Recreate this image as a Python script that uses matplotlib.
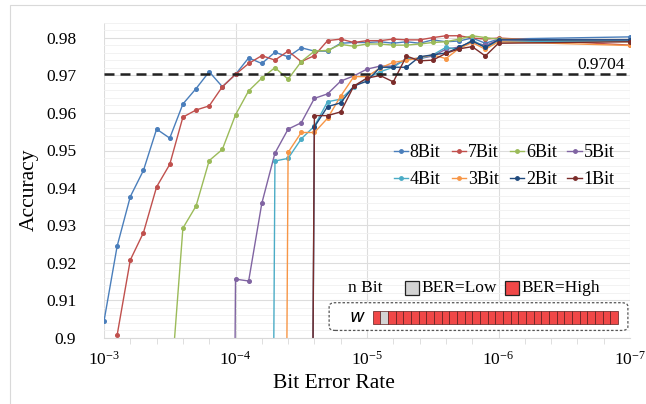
import numpy as np
import matplotlib
matplotlib.use('Agg')
import matplotlib.pyplot as plt
from matplotlib.patches import Rectangle, FancyBboxPatch
from matplotlib.ticker import FixedLocator, FuncFormatter, NullFormatter

plt.rcParams['font.family'] = ['Liberation Serif', 'DejaVu Serif']
plt.rcParams['mathtext.fontset'] = 'custom'
plt.rcParams['mathtext.rm'] = 'Liberation Serif'

# BER exponents (10^x): -3.0 ... -6.0 in 0.1 steps, then -7
ber_exp = [-3.0, -3.1, -3.2, -3.3, -3.4, -3.5, -3.6, -3.7, -3.8, -3.9,
           -4.0, -4.1, -4.2, -4.3, -4.4, -4.5, -4.6, -4.7, -4.8, -4.9,
           -5.0, -5.1, -5.2, -5.3, -5.4, -5.5, -5.6, -5.7, -5.8, -5.9,
           -6.0, -7.0]

N = None
acc_8bit = [0.9045, 0.9245, 0.9377, 0.9447, 0.9557, 0.9533, 0.9624, 0.9665, 0.9710, 0.9670,
            0.9703, 0.9747, 0.9732, 0.9762, 0.9750, 0.9774, 0.9765, 0.9765, 0.9786, 0.9788,
            0.9788, 0.9790, 0.9786, 0.9790, 0.9786, 0.9795, 0.9790, 0.9792, 0.9800, 0.9786,
            0.9797, 0.9803]
acc_7bit = [N, 0.9008, 0.9208, 0.9281, 0.9403, 0.9463, 0.9589, 0.9608, 0.9619, 0.9670,
            0.9703, 0.9732, 0.9753, 0.9741, 0.9765, 0.9737, 0.9753, 0.9793, 0.9797, 0.9788,
            0.9793, 0.9793, 0.9797, 0.9795, 0.9795, 0.9801, 0.9806, 0.9806, 0.9800, 0.9797,
            0.9800, 0.9781]
acc_6bit = [N, N, N, N, N, 0.8830, 0.9293, 0.9352, 0.9473, 0.9503,
            0.9595, 0.9659, 0.9693, 0.9721, 0.9690, 0.9737, 0.9765, 0.9767, 0.9783, 0.9778,
            0.9784, 0.9784, 0.9781, 0.9781, 0.9784, 0.9788, 0.9790, 0.9797, 0.9806, 0.9801,
            0.9797, 0.9790]
acc_5bit = [N, N, N, N, N, N, N, N, N, 0.4000,
            0.9157, 0.9152, 0.9359, 0.9493, 0.9557, 0.9574, 0.9639, 0.9651, 0.9685, 0.9699,
            0.9717, 0.9725, 0.9725, 0.9745, 0.9745, 0.9752, 0.9770, 0.9776, 0.9790, 0.9780,
            0.9795, 0.9795]
acc_4bit = [N, N, N, N, N, N, N, N, N, N,
            N, N, 0.4000, 0.9472, 0.9479, 0.9531, 0.9565, 0.9630, 0.9637, 0.9670,
            0.9693, 0.9710, 0.9722, 0.9745, 0.9745, 0.9755, 0.9775, 0.9770, 0.9795, 0.9775,
            0.9790, 0.9792]
acc_3bit = [N, N, N, N, N, N, N, N, N, N,
            N, N, N, 0.4000, 0.9495, 0.9548, 0.9548, 0.9586, 0.9645, 0.9697,
            0.9697, 0.9720, 0.9735, 0.9740, 0.9748, 0.9755, 0.9745, 0.9772, 0.9788, 0.9770,
            0.9790, 0.9780]
acc_2bit = [N, N, N, N, N, N, N, N, N, N,
            N, N, N, N, N, 0.4000, 0.9563, 0.9617, 0.9627, 0.9672,
            0.9685, 0.9722, 0.9722, 0.9722, 0.9750, 0.9755, 0.9760, 0.9775, 0.9792, 0.9775,
            0.9795, 0.9795]
acc_1bit = [N, N, N, N, N, N, N, N, N, N,
            N, N, N, N, N, 0.4000, 0.9593, 0.9593, 0.9603, 0.9672,
            0.9693, 0.9700, 0.9683, 0.9752, 0.9739, 0.9741, 0.9759, 0.9771, 0.9777, 0.9752,
            0.9786, 0.9790]

labels = ['8Bit', '7Bit', '6Bit', '5Bit', '4Bit', '3Bit', '2Bit', '1Bit']
series = [acc_8bit, acc_7bit, acc_6bit, acc_5bit, acc_4bit, acc_3bit, acc_2bit, acc_1bit]
colors = ['#4A7EBB', '#C0504D', '#9BBB59', '#8064A2', '#4BACC6', '#F79646', '#1F497D', '#7B2C2A']

threshold = 0.9704
y_ticks = [0.9, 0.91, 0.92, 0.93, 0.94, 0.95, 0.96, 0.97, 0.98]
x_ticks = [1e-3, 1e-4, 1e-5, 1e-6, 1e-7]
x_ticklabels = [r'$\mathregular{10^{-3}}$', r'$\mathregular{10^{-4}}$', r'$\mathregular{10^{-5}}$',
                r'$\mathregular{10^{-6}}$', r'$\mathregular{10^{-7}}$']
# weight bit states: L = low BER (grey), H = high BER (red)
w_bits = ['H', 'L'] + ['H'] * 30

ber = 10.0 ** np.array(ber_exp)

fig = plt.figure(figsize=(6.46, 4.04), dpi=100)
ax = fig.add_axes([104/646, 1 - 338/404, 526/646, 315/404])

for lab, acc, c in zip(labels, series, colors):
    ax.plot(ber, np.array(acc, dtype=float), color=c, marker='o', ms=2.6, lw=1.0, label=lab)

ax.axhline(threshold, color='#222222', ls=(0, (4, 2.4)), lw=1.8)
ax.text(0.945, threshold + 0.0003, f'{threshold}', transform=ax.get_yaxis_transform(),
        ha='center', va='bottom', fontsize=12.5)

ax.set_xscale('log')
ax.set_xlim(1e-3, 1e-7)
ax.set_ylim(0.9, 0.984)
ax.set_xticks(x_ticks)
ax.set_xticklabels(x_ticklabels)
ax.xaxis.set_minor_locator(FixedLocator([10.0 ** (-3 - 0.2 * k) for k in range(21)]))
ax.xaxis.set_minor_formatter(NullFormatter())
ax.set_yticks(y_ticks)
ax.yaxis.set_major_formatter(FuncFormatter(lambda v, p: f'{v:g}'))
ax.yaxis.set_minor_locator(FixedLocator(np.round(np.arange(0.9, 0.9841, 0.002), 3)))

ax.grid(which='major', color='#DDDDDD', lw=0.8)
ax.grid(which='minor', axis='y', color='#F0F0F0', lw=0.6)
ax.set_axisbelow(True)
for s in ['top', 'left', 'right']:
    ax.spines[s].set_visible(False)
ax.spines['bottom'].set_color('#D9D9D9')
ax.tick_params(axis='y', which='both', length=0, pad=20, labelsize=12.5)
ax.tick_params(axis='x', which='major', length=0, pad=9, labelsize=12.5)
ax.tick_params(axis='x', which='minor', length=4, color='#D9D9D9', direction='out')

fig.text(334/646, 1 - 383/404, 'Bit Error Rate', ha='center', va='center', fontsize=15.5)
fig.text(29/646, 1 - 190/404, 'Accuracy', ha='center', va='center', rotation=90, fontsize=15.5)

handles, labs = ax.get_legend_handles_labels()
order = [0, 4, 1, 5, 2, 6, 3, 7]
leg = ax.legend([handles[i] for i in order], [labs[i] for i in order], ncol=4,
                loc='center right', bbox_to_anchor=(0.995, 0.545), frameon=False,
                fontsize=13, handlelength=0.8, handletextpad=0.1, columnspacing=0.6,
                labelspacing=0.55, borderpad=0.2)
for h in leg.legend_handles:
    h.set_linewidth(1.0)
    h.set_markersize(2.5)

# n-bit annotation
ta = ax.transAxes
ax.text(0.496, 0.159, 'n Bit', transform=ta, ha='center', va='center', fontsize=12.5)
ax.add_patch(Rectangle((0.572, 0.137), 0.027, 0.044, transform=ta, facecolor='#D3D3D3',
                       edgecolor='#222222', lw=0.9, clip_on=False))
ax.text(0.603, 0.159, 'BER=Low', transform=ta, ha='left', va='center', fontsize=12.5)
ax.add_patch(Rectangle((0.762, 0.137), 0.027, 0.044, transform=ta, facecolor='#F04848',
                       edgecolor='#222222', lw=0.9, clip_on=False))
ax.text(0.793, 0.159, 'BER=High', transform=ta, ha='left', va='center', fontsize=12.5)
ax.add_patch(FancyBboxPatch((0.428, 0.024), 0.568, 0.088, boxstyle='round,pad=0,rounding_size=0.012',
                            transform=ta, facecolor='white', edgecolor='#555555', lw=0.9,
                            ls=(0, (2, 1.5)), clip_on=False, zorder=3))
ax.text(0.481, 0.067, 'w', transform=ta, ha='center', va='center', fontsize=13,
        style='italic', family='DejaVu Sans', zorder=4)
x0, x1 = 0.511, 0.977
cw = (x1 - x0) / len(w_bits)
for i, b in enumerate(w_bits):
    ax.add_patch(Rectangle((x0 + i * cw, 0.046), cw, 0.040, transform=ta,
                           facecolor='#D3D3D3' if b == 'L' else '#F04848',
                           edgecolor='#5A1E1E', lw=0.5, clip_on=False, zorder=4))

# outer chart frame
fig.add_artist(Rectangle((10/646, -0.01), 1.0, 1 - 5/404 + 0.01, transform=fig.transFigure,
                         fill=False, edgecolor='#D9D9D9', lw=0.8))

fig.savefig('out.png', dpi=100, facecolor='white')
